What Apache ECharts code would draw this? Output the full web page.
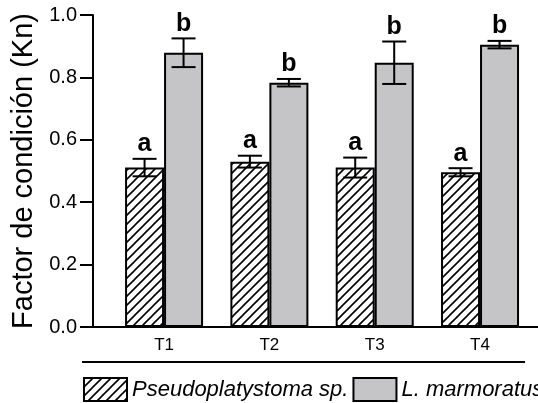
<!DOCTYPE html>
<html>
<head>
<meta charset="utf-8">
<script src="https://cdn.jsdelivr.net/npm/echarts@6/dist/echarts.min.js"></script>
<style>
  html, body { margin: 0; padding: 0; background: #fff; }
  #chart { width: 538px; height: 403px; }
</style>
</head>
<body>
<div id="chart"></div>
<script>
// ---- data ----
const categories = ['T1', 'T2', 'T3', 'T4'];
const pseudoMean = [0.511, 0.530, 0.511, 0.496];
const pseudoErr  = [0.028, 0.019, 0.032, 0.013];
const marmMean   = [0.879, 0.783, 0.847, 0.905];
const marmErr    = [0.046, 0.012, 0.068, 0.012];
const pseudoLetters = ['a', 'a', 'a', 'a'];
const marmLetters   = ['b', 'b', 'b', 'b'];
const seriesNames = ['Pseudoplatystoma sp.', 'L. marmoratus'];

// ---- styling ----
const FONT = '"Liberation Sans", Arial, Helvetica, sans-serif';
const BAR_W = 39;
const GRAY = '#c5c5c7';
const GRID_LEFT = 111.4;
const AXIS_X = 93;

function hatchPattern() {
  const s = 9;
  const c = document.createElement('canvas');
  c.width = s; c.height = s;
  const g = c.getContext('2d');
  g.fillStyle = '#fff';
  g.fillRect(0, 0, s, s);
  g.strokeStyle = '#000';
  g.lineWidth = 1.6;
  g.beginPath();
  g.moveTo(-1, s + 1); g.lineTo(s + 1, -1);
  g.moveTo(-1, 1); g.lineTo(1, -1);
  g.moveTo(s - 1, s + 1); g.lineTo(s + 1, s - 1);
  g.stroke();
  return { image: c, repeat: 'repeat' };
}

function errData(means, errs) {
  return means.map((m, i) => [i, m - errs[i], m + errs[i]]);
}

function errRenderer(letters, dx) {
  return function (params, api) {
    const i = api.value(0);
    const lo = api.coord([i, api.value(1)]);
    const hi = api.coord([i, api.value(2)]);
    const x = lo[0] + dx;
    const cap = 12;
    const ls = { stroke: '#000', lineWidth: 2 };
    return {
      type: 'group',
      children: [
        { type: 'line', shape: { x1: x, y1: lo[1], x2: x, y2: hi[1] }, style: ls },
        { type: 'line', shape: { x1: x - cap, y1: hi[1], x2: x + cap, y2: hi[1] }, style: ls },
        { type: 'line', shape: { x1: x - cap, y1: lo[1], x2: x + cap, y2: lo[1] }, style: ls },
        { type: 'text', style: {
            text: letters[params.dataIndex], x: x, y: hi[1] - 2,
            align: 'center', verticalAlign: 'bottom',
            font: 'bold 25px ' + FONT, fill: '#000' } }
      ]
    };
  };
}

const chart = echarts.init(document.getElementById('chart'), null, { renderer: 'canvas' });
const hatch = hatchPattern();

chart.setOption({
  animation: false,
  backgroundColor: '#fff',
  textStyle: { fontFamily: FONT },
  grid: [
    { left: AXIS_X, right: 0, top: 15, bottom: 76, outerBoundsMode: 'none', containLabel: false },
    { left: GRID_LEFT, width: 421.3, top: 15, bottom: 76, outerBoundsMode: 'none', containLabel: false }
  ],
  xAxis: [
    { gridIndex: 0, type: 'value', min: 0, max: 1,
      axisLine: { show: true, onZero: false, lineStyle: { color: '#000', width: 2 } },
      axisTick: { show: false }, axisLabel: { show: false }, splitLine: { show: false } },
    { gridIndex: 1, type: 'category', data: categories,
      axisLine: { show: false }, axisTick: { show: false },
      axisLabel: { color: '#000', fontSize: 17, margin: 10, fontFamily: FONT } }
  ],
  yAxis: [
    { gridIndex: 0, type: 'value', min: 0, max: 1, interval: 0.2,
      axisLine: { show: true, onZero: false, lineStyle: { color: '#000', width: 2 } },
      axisTick: { show: true, inside: false, length: 13, lineStyle: { color: '#000', width: 2 } },
      axisLabel: { color: '#000', fontSize: 20, margin: 16, fontFamily: FONT,
                   formatter: v => v.toFixed(1) },
      splitLine: { show: false },
      name: 'Factor de condición (Kn)', nameLocation: 'middle', nameGap: 51,
      nameTextStyle: { color: '#000', fontSize: 29, fontFamily: FONT } },
    { gridIndex: 1, type: 'value', min: 0, max: 1, show: false }
  ],
  legend: {
    data: seriesNames,
    left: 83, top: 377, width: 470, padding: 0,
    itemWidth: 43, itemHeight: 23, itemGap: 4,
    icon: 'rect',
    textStyle: { color: '#000', fontSize: 22, fontStyle: 'italic', fontFamily: FONT }
  },
  graphic: [
    { type: 'line', shape: { x1: 82, y1: 362, x2: 525, y2: 362 },
      style: { stroke: '#000', lineWidth: 2 } }
  ],
  series: [
    { type: 'line', xAxisIndex: 0, yAxisIndex: 0, data: [[0, 0]], symbol: 'none',
      lineStyle: { opacity: 0 }, silent: true },
    { name: seriesNames[0], type: 'bar', xAxisIndex: 1, yAxisIndex: 1,
      data: pseudoMean, barWidth: BAR_W, barGap: '0%',
      itemStyle: { color: hatch, borderColor: '#000', borderWidth: 2 } },
    { name: seriesNames[1], type: 'bar', xAxisIndex: 1, yAxisIndex: 1,
      data: marmMean, barWidth: BAR_W, barGap: '0%',
      itemStyle: { color: GRAY, borderColor: '#000', borderWidth: 2 } },
    { type: 'custom', xAxisIndex: 1, yAxisIndex: 1, z: 5, clip: false,
      data: errData(pseudoMean, pseudoErr),
      renderItem: errRenderer(pseudoLetters, -BAR_W / 2) },
    { type: 'custom', xAxisIndex: 1, yAxisIndex: 1, z: 5, clip: false,
      data: errData(marmMean, marmErr),
      renderItem: errRenderer(marmLetters, BAR_W / 2) }
  ]
});
</script>
</body>
</html>
